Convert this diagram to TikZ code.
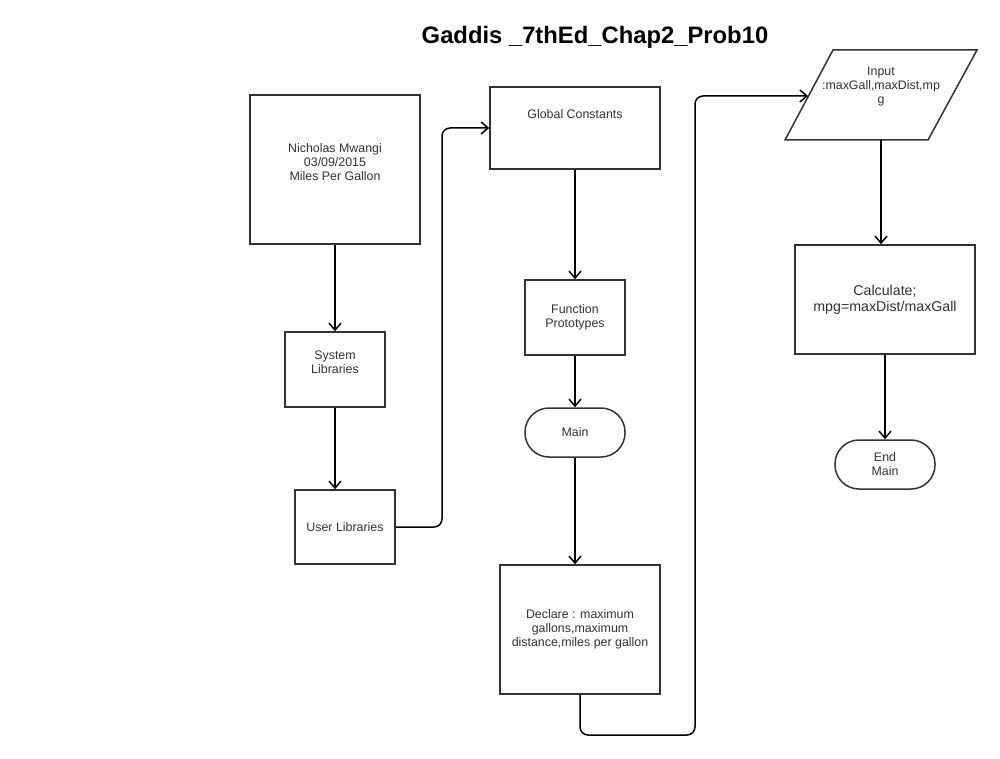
\documentclass[tikz,border=0pt]{standalone}
\usepackage{fontspec}
\setmainfont{Liberation Sans}
\usepackage{tikz}
\usetikzlibrary{arrows.meta}

\begin{document}
\begin{tikzpicture}[x=1pt,y=-1pt,
  box/.style={draw=black!80,line width=1.5pt,fill=white,align=center,text=black!80,
    font=\fontsize{12.4}{14}\selectfont},
  term/.style={box,rounded corners=24pt},
  flow/.style={line width=1.5pt,rounded corners=8pt,-{Straight Barb[length=7pt,width=12pt,line width=1.5pt]}}]

\useasboundingbox (0,0) rectangle (1000,759);

\node[font=\fontsize{23.8}{28}\selectfont\bfseries] (title) at (595,37) {Gaddis \_7thEd\_Chap2\_Prob10};

\node[box,minimum width=170,minimum height=149,
  label={[box,draw=none,fill=none,yshift=7.5pt]center:Nicholas Mwangi\\03/09/2015\\Miles Per Gallon}]
  (nick) at (335,169.5) {};
\node[box,minimum width=100,minimum height=75,
  label={[box,draw=none,fill=none,yshift=7.5pt]center:System\\Libraries}]
  (syslib) at (335,369.5) {};
\node[box,minimum width=100,minimum height=74] (userlib) at (345,527) {User Libraries};

\node[box,minimum width=170,minimum height=82,
  label={[box,draw=none,fill=none,yshift=14pt]center:Global Constants}]
  (global) at (575,128) {};
\node[box,minimum width=100,minimum height=75] (proto) at (575,317.5) {Function\\Prototypes};
\node[term,minimum width=100,minimum height=49] (main) at (575,432.5) {Main};
\node[box,minimum width=160,minimum height=129] (declare) at (580,629.5)
  {Declare : maximum\\gallons,maximum\\distance,miles per gallon};

% input parallelogram
\draw[draw=black!80,line width=1.5pt,fill=white] (833,50) -- (977,50) -- (928,140) -- (785,140) -- cycle;
\node[box,draw=none,fill=none] (input) at (881,87) {Input\\:maxGall,maxDist,mp\\g};
\coordinate (inputw) at (808,96);
\coordinate (inputs) at (881,140);

\node[box,minimum width=180,minimum height=109,font=\fontsize{14.2}{16}\selectfont] (calc) at (885,299.5)
  {Calculate;\\mpg=maxDist/maxGall};
\node[term,minimum width=100,minimum height=49] (endmain) at (885,464.5) {End\\Main};

\draw[flow] (nick) -- (syslib);
\draw[flow] (syslib) -- (syslib |- userlib.north);
\draw[flow] (userlib.east) -| (442,128) -- (global.west);
\draw[flow] (global) -- (proto);
\draw[flow] (proto) -- (main);
\draw[flow] (main) -- (main |- declare.north);
\draw[flow] (declare.south) |- (695,735) |- (inputw);
\draw[flow] (inputs) -- (inputs |- calc.north);
\draw[flow] (calc) -- (endmain);

\end{tikzpicture}
\end{document}
